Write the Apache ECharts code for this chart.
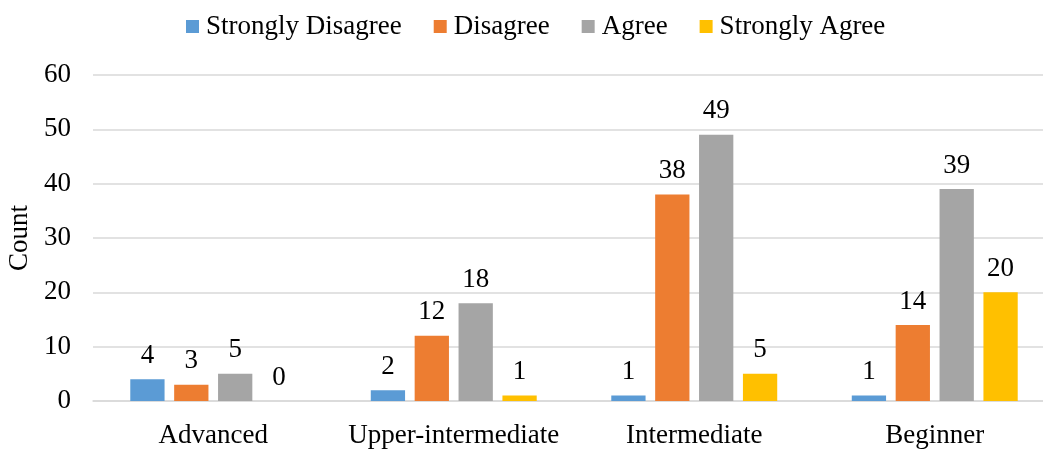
<!DOCTYPE html>
<html>
<head>
<meta charset="utf-8">
<script src="https://cdn.jsdelivr.net/npm/echarts@6/dist/echarts.min.js"></script>
<style>
  html, body { margin: 0; padding: 0; background: #fff; }
  #chart { width: 1043px; height: 450px; }
</style>
</head>
<body>
<div id="chart"></div>
<script>
const categories = ['Advanced', 'Upper-intermediate', 'Intermediate', 'Beginner'];
const stronglyDisagree = [4, 2, 1, 1];
const disagree = [3, 12, 38, 14];
const agree = [5, 18, 49, 39];
const stronglyAgree = [0, 1, 5, 20];
const yTicks = { min: 0, max: 60, interval: 10 };

const font = '"Liberation Serif", "Times New Roman", serif';
const fs = 27;

function bar(name, data, color) {
  return {
    name: name,
    type: 'bar',
    data: data,
    barGap: '28%',
    barCategoryGap: '31%',
    itemStyle: { color: color },
    label: {
      show: true,
      position: 'top',
      distance: 10,
      color: '#000',
      fontFamily: font,
      fontSize: fs
    }
  };
}

const myChart = echarts.init(document.getElementById('chart'));
myChart.setOption({
  animation: false,
  textStyle: { fontFamily: font },
  legend: {
    top: 8,
    left: 181,
    itemWidth: 13,
    itemHeight: 13,
    itemGap: 32,
    icon: 'rect',
    textStyle: { fontFamily: font, fontSize: fs, color: '#000', padding: [0, 0, 0, 2] }
  },
  grid: {
    left: 93,
    right: -12,
    top: 75,
    bottom: 49,
    outerBoundsMode: 'none'
  },
  xAxis: {
    type: 'category',
    data: categories,
    axisTick: { show: false },
    axisLine: { lineStyle: { color: '#d9d9d9', width: 1.5 } },
    axisLabel: { color: '#000', fontFamily: font, fontSize: fs, margin: 21, interval: 0, hideOverlap: false }
  },
  yAxis: {
    type: 'value',
    min: yTicks.min,
    max: yTicks.max,
    interval: yTicks.interval,
    name: 'Count',
    nameLocation: 'middle',
    nameGap: 57,
    nameTextStyle: { color: '#000', fontFamily: font, fontSize: fs },
    axisLine: { show: false },
    axisTick: { show: false },
    axisLabel: { color: '#000', fontFamily: font, fontSize: fs, margin: 22 },
    splitLine: { lineStyle: { color: '#d9d9d9', width: 1.5 } }
  },
  series: [
    bar('Strongly Disagree', stronglyDisagree, '#5B9BD5'),
    bar('Disagree', disagree, '#ED7D31'),
    bar('Agree', agree, '#A5A5A5'),
    bar('Strongly Agree', stronglyAgree, '#FFC000')
  ]
});
</script>
</body>
</html>
